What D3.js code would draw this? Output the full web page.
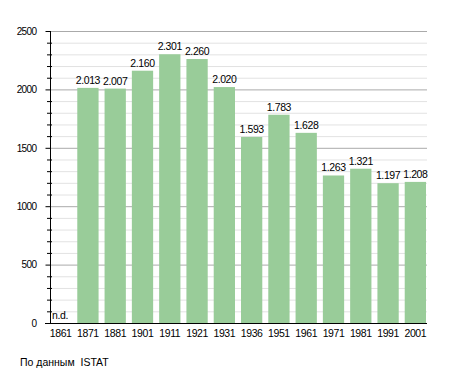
<!DOCTYPE html>
<html><head><meta charset="utf-8">
<script src="https://cdn.jsdelivr.net/npm/d3@7"></script>
<style>body{margin:0;background:#fff}text{font-family:"Liberation Sans",Arial,sans-serif}</style>
</head><body>
<svg id="c" width="455" height="373"></svg>
<script>
const years = ["1861","1871","1881","1901","1911","1921","1931","1936","1951","1961","1971","1981","1991","2001"];
const population = [null,2013,2007,2160,2301,2260,2020,1593,1783,1628,1263,1321,1197,1208];
const yTicks = [0,500,1000,1500,2000,2500];
const source = "По данным  ISTAT";

const svg = d3.select("#c");
const x = d3.scaleBand().domain(years).range([50,426]).paddingInner(0.22).paddingOuter(0);
const y = d3.scaleLinear().domain([0,2500]).range([323,31]);
const fmt = v => d3.format(",")(v).replace(/,/g,".");

// minor gridlines
svg.append("g").selectAll("line").data(d3.range(100,2500,100).filter(v=>v%500)).join("line")
  .attr("x1",50).attr("x2",427).attr("y1",d=>y(d)+0.5).attr("y2",d=>y(d)+0.5)
  .attr("stroke","#e2e2e2");
svg.append("g").selectAll("line").data(d3.range(100,2500,100).filter(v=>v%500)).join("line")
  .attr("x1",47).attr("x2",52).attr("y1",d=>y(d)+0.5).attr("y2",d=>y(d)+0.5)
  .attr("stroke","#000");
// major gridlines
svg.append("g").selectAll("line").data(yTicks.slice(1)).join("line")
  .attr("x1",50).attr("x2",427).attr("y1",d=>y(d)+0.5).attr("y2",d=>y(d)+0.5)
  .attr("stroke","#aaa");

// bars
svg.append("g").selectAll("rect").data(years.map((yr,i)=>({yr,v:population[i]})).filter(d=>d.v!=null)).join("rect")
  .attr("x",d=>x(d.yr)).attr("width",x.bandwidth())
  .attr("y",d=>y(d.v)).attr("height",d=>y(0)-y(d.v))
  .attr("fill","#99cc99");

// value labels
svg.append("g").selectAll("text").data(years.map((yr,i)=>({yr,v:population[i]}))).join("text")
  .attr("x",d=>d.v==null? x(d.yr)+2 : x(d.yr)+x.bandwidth()/2)
  .attr("y",d=>d.v==null? y(0)-4 : y(d.v)-4)
  .attr("text-anchor",d=>d.v==null?"start":"middle")
  .attr("font-size",10.5).attr("letter-spacing",-0.4).attr("fill","#000")
  .text(d=>d.v==null?"n.d.":fmt(d.v));

// y axis
const ya = d3.axisLeft(y).tickValues(yTicks).tickSize(5).tickPadding(9).tickFormat(d3.format("d"));
const gy = svg.append("g").attr("transform","translate(50.5,0)").call(ya);
gy.select(".domain").attr("d","M0,31V323.5");
gy.selectAll("text").attr("font-size",10).attr("letter-spacing",-0.6).attr("font-family","Liberation Sans, Arial, sans-serif");

// x axis
const xa = d3.axisBottom(x).tickSize(0).tickPadding(6);
const gx = svg.append("g").attr("transform","translate(0,323.5)").call(xa);
gx.select(".domain").attr("d","M45,0H427");
gx.selectAll("text").attr("font-size",10.5).attr("letter-spacing",-0.4).attr("font-family","Liberation Sans, Arial, sans-serif");

svg.append("text").attr("x",20).attr("y",366).attr("font-size",10.5).style("white-space","pre").text(source);
</script>
</body></html>
